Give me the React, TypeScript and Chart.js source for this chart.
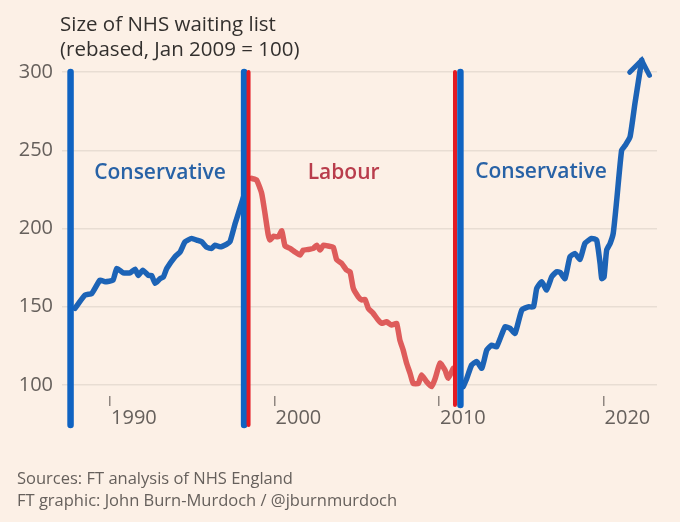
import React, { useEffect, useRef } from "react";
import { Chart, registerables } from "chart.js";

Chart.register(...registerables);

// ---- Data (decimal years, index Jan 2009 = 100) ----
const conservative1Years = [
  1987.87, 1988.48, 1988.89, 1989.39, 1989.7, 1990.18, 1990.41, 1990.81, 1991.22, 1991.52,
  1991.72, 1991.99, 1992.33, 1992.53, 1992.74, 1993.04, 1993.24, 1993.45, 1993.95, 1994.26,
  1994.56, 1994.97, 1995.27, 1995.57, 1995.88, 1996.18, 1996.38, 1996.69, 1997.09, 1997.29,
  1997.6, 1997.9, 1998.21,
];
const conservative1Values = [
  149, 157.5, 158.5, 167, 166, 167, 174.5, 171.7, 171.7, 174,
  170, 173.4, 170, 170, 165, 168, 169, 174.5, 182, 185,
  191.5, 193.7, 192.6, 191.5, 188, 187.3, 189.4, 188.3, 190, 191.5,
  203, 213, 223.4,
];

const labourYears = [
  1998.61, 1998.91, 1999.22, 1999.42, 1999.62, 1999.73, 1999.93, 2000.23, 2000.44, 2000.64,
  2000.94, 2001.25, 2001.55, 2001.75, 2002.05, 2002.36, 2002.56, 2002.77, 2002.97, 2003.27,
  2003.57, 2003.78, 2004.08, 2004.38, 2004.59, 2004.79, 2005.09, 2005.3, 2005.5, 2005.7,
  2006.0, 2006.3, 2006.51, 2006.81, 2007.12, 2007.42, 2007.62, 2007.82, 2008.03, 2008.24,
  2008.43, 2008.74, 2008.94, 2009.25, 2009.55, 2009.76, 2010.06, 2010.36, 2010.56, 2010.86,
];
const labourValues = [
  232, 231, 222.4, 209.6, 195.8, 192.6, 195, 194.7, 198.5, 188.8,
  187.3, 185, 183, 186.2, 186.6, 187.3, 189.4, 186.2, 189.4, 188.8,
  188, 180, 177.7, 173.4, 172.4, 161.7, 156.4, 154.3, 154.7, 149,
  145.8, 141.5, 139.4, 140.4, 138.3, 139.4, 128.7, 122.3, 113.9, 107.5,
  101, 101, 106.4, 102, 99, 104, 114, 109.6, 104.3, 110.6,
];

const conservative2Years = [
  2011.47, 2011.68, 2011.98, 2012.29, 2012.6, 2012.9, 2013.2, 2013.5, 2014.01, 2014.32,
  2014.62, 2015.03, 2015.43, 2015.74, 2015.94, 2016.24, 2016.54, 2016.85, 2017.15, 2017.36,
  2017.66, 2017.96, 2018.27, 2018.57, 2018.87, 2019.28, 2019.58, 2019.79, 2019.89, 2020.03,
  2020.19, 2020.4, 2020.59, 2020.8, 2021.1, 2021.31, 2021.61, 2021.91, 2022.32,
];
const conservative2Values = [
  99, 104, 112.8, 115, 110.7, 122.3, 125.5, 124.4, 137.2, 136.2,
  133, 148, 150, 150, 161.7, 166, 160.7, 169.2, 172.4, 172,
  168, 182, 184, 180.3, 190.5, 193.7, 192.6, 177.7, 168, 169,
  186.2, 190.5, 197, 218, 250, 253, 258.5, 280, 307.5,
];

// Changes of government (vertical bars)
const changeYears = [1987.6, 1998.15, 1998.42, 2010.97, 2011.3];
const changeParty = ["con", "con", "lab", "lab", "con"];
const changeBottoms = [74.4, 74.4, 74.4, 87.2, 87.2];
const changeTop = 300;

const partyNames = ["Conservative", "Labour", "Conservative"];
const partyLabelYears = [1993.04, 2004.2, 2016.2];
const partyLabelValues = [235.5, 235.5, 236];
const partyKinds = ["con", "lab", "con"];

const xTickYears = [1990, 2000, 2010, 2020];
const yTickValues = [100, 150, 200, 250, 300];

// ---- Styles ----
const BG = "#fcf0e6";
const BLUE_BAR = "#0f63c2";
const RED_BAR = "#e31b23";
const BLUE_LINE = "#1c63b6";
const RED_LINE = "#de5c5b";
const BLUE_TEXT = "#2862a6";
const RED_TEXT = "#b93d4c";
const AXIS_TEXT = "#66605c";
const FONT = '"Open Sans", sans-serif';

const pts = (xs: number[], ys: number[]) => xs.map((x, i) => ({ x, y: ys[i] }));

export default function App() {
  const ref = useRef<HTMLCanvasElement>(null);

  useEffect(() => {
    const canvas = ref.current;
    if (!canvas) return;

    const barDatasets = changeYears.map((yr, i) => ({
      type: "line" as const,
      data: [
        { x: yr, y: changeTop },
        { x: yr, y: changeBottoms[i] },
      ],
      borderColor: changeParty[i] === "con" ? BLUE_BAR : RED_BAR,
      borderWidth: changeParty[i] === "con" ? 6.5 : 4,
      borderCapStyle: "round" as const,
      pointRadius: 0,
      clip: false as any,
      order: changeParty[i] === "lab" ? 0 : 1,
    }));

    const lineCommon = {
      type: "line" as const,
      borderWidth: 5.5,
      pointRadius: 0,
      tension: 0.15,
      borderJoinStyle: "round" as const,
      borderCapStyle: "round" as const,
      clip: false as any,
      order: 2,
    };

    const arrowPlugin = {
      id: "arrowAndLabels",
      afterDatasetsDraw(chart: any) {
        const ctx = chart.ctx;
        const meta = chart.getDatasetMeta(2);
        const n = meta.data.length;
        const p1 = meta.data[n - 2];
        const p2 = meta.data[n - 1];
        const ang = Math.atan2(p2.y - p1.y, p2.x - p1.x);
        const L = 17;
        const a = 0.63;
        ctx.save();
        ctx.strokeStyle = BLUE_LINE;
        ctx.lineWidth = 5;
        ctx.lineJoin = "miter";
        ctx.lineCap = "round";
        ctx.beginPath();
        ctx.moveTo(p2.x - L * Math.cos(ang - a), p2.y - L * Math.sin(ang - a));
        ctx.lineTo(p2.x, p2.y);
        ctx.lineTo(p2.x - L * Math.cos(ang + a), p2.y - L * Math.sin(ang + a));
        ctx.stroke();

        const xs = chart.scales.x;
        const ys = chart.scales.y;
        ctx.font = `600 21px ${FONT}`;
        ctx.textAlign = "center";
        ctx.textBaseline = "middle";
        partyNames.forEach((name, i) => {
          ctx.fillStyle = partyKinds[i] === "con" ? BLUE_TEXT : RED_TEXT;
          ctx.fillText(
            name,
            xs.getPixelForValue(partyLabelYears[i]),
            ys.getPixelForValue(partyLabelValues[i])
          );
        });
        ctx.restore();
      },
    };

    const chart = new Chart(canvas, {
      type: "line",
      data: {
        datasets: [
          { ...lineCommon, data: pts(conservative1Years, conservative1Values), borderColor: BLUE_LINE },
          { ...lineCommon, data: pts(labourYears, labourValues), borderColor: RED_LINE },
          { ...lineCommon, data: pts(conservative2Years, conservative2Values), borderColor: BLUE_LINE },
          ...barDatasets,
        ] as any,
      },
      options: {
        animation: false,
        responsive: false,
        maintainAspectRatio: false,
        layout: { padding: { left: 0, right: 23, top: 72, bottom: 86 } },
        plugins: {
          legend: { display: false },
          tooltip: { enabled: false },
          title: { display: false },
        },
        scales: {
          x: {
            type: "linear",
            min: 1987.08,
            max: 2023.25,
            border: { display: false },
            grid: {
              display: true,
              drawOnChartArea: false,
              drawTicks: true,
              tickLength: 10,
              color: "#8f8680",
              lineWidth: 1.5,
            },
            ticks: {
              align: "start",
              labelOffset: 1,
              padding: 0,
              color: AXIS_TEXT,
              font: { family: FONT, size: 20 },
              callback: (v: any) => String(v),
            },
            afterBuildTicks: (scale: any) => {
              scale.ticks = xTickYears.map((v) => ({ value: v }));
            },
            afterFit: (scale: any) => {
              scale.height = 40;
            },
          },
          y: {
            type: "linear",
            min: 93,
            max: 300,
            border: { display: false },
            grid: {
              display: true,
              drawTicks: false,
              color: "#e8ddd3",
              lineWidth: 1.5,
            },
            ticks: {
              padding: 9,
              color: AXIS_TEXT,
              font: { family: FONT, size: 20 },
              callback: (v: any) => String(v),
            },
            afterBuildTicks: (scale: any) => {
              scale.ticks = yTickValues.map((v) => ({ value: v }));
            },
            afterFit: (scale: any) => {
              scale.width = 62;
            },
          },
        },
      },
      plugins: [arrowPlugin],
    });

    return () => chart.destroy();
  }, []);

  return (
    <div
      style={{
        position: "absolute",
        left: 0,
        top: 0,
        width: 680,
        height: 522,
        background: BG,
        overflow: "hidden",
      }}
    >
      <canvas
        ref={ref}
        width={680}
        height={522}
        style={{ position: "absolute", left: 0, top: 0, width: 680, height: 522 }}
      />
      <div
        style={{
          position: "absolute",
          left: 60,
          top: 11,
          fontFamily: FONT,
          fontSize: 20.5,
          lineHeight: "25px",
          color: "#33302e",
          whiteSpace: "nowrap",
        }}
      >
        Size of NHS waiting list
        <br />
        (rebased, Jan 2009 = 100)
      </div>
      <div
        style={{
          position: "absolute",
          left: 17,
          top: 467,
          fontFamily: FONT,
          fontSize: 16.5,
          lineHeight: "22px",
          color: AXIS_TEXT,
          whiteSpace: "nowrap",
        }}
      >
        Sources: FT analysis of NHS England
        <br />
        FT graphic: John Burn-Murdoch / @jburnmurdoch
      </div>
    </div>
  );
}
